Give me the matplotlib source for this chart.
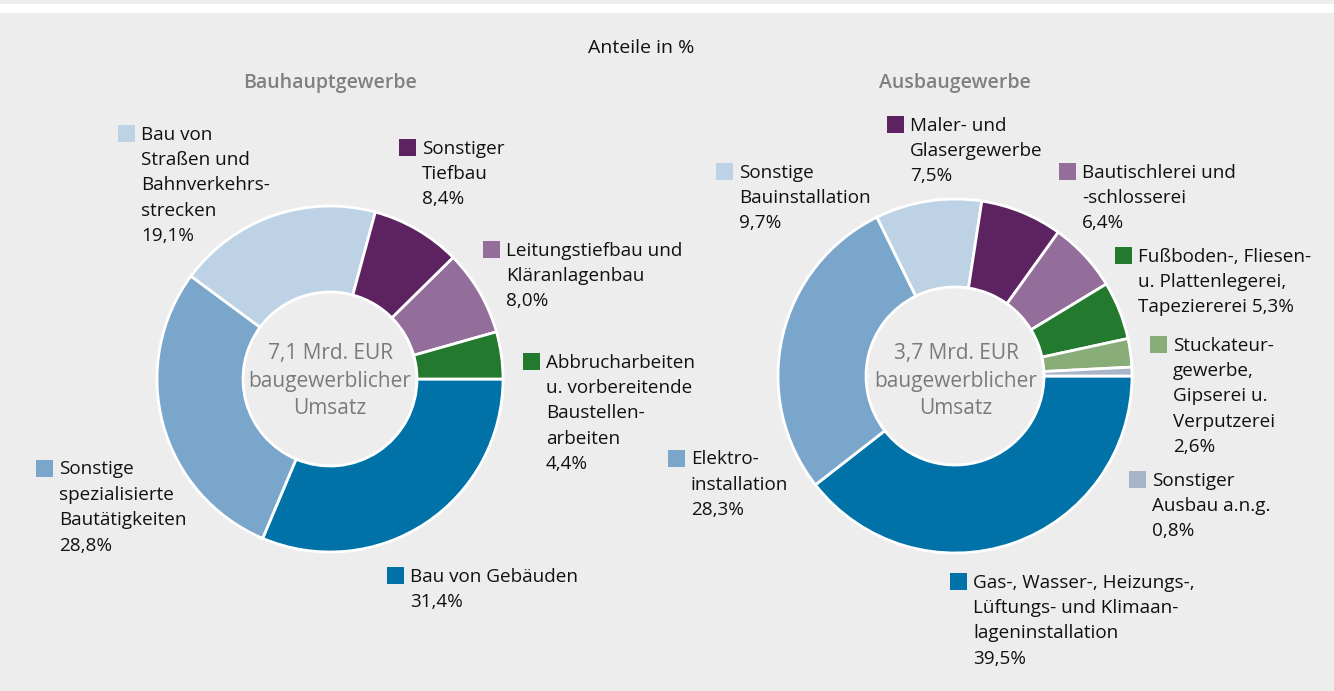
import matplotlib
matplotlib.use("Agg")
import matplotlib.pyplot as plt
from matplotlib.patches import Rectangle

plt.rcParams["font.family"] = ["Open Sans", "DejaVu Sans"]

W, H = 1334, 691
BG = "#EDEDED"; INK = "#111111"; GREY = "#7A7A7A"

C_DBLUE = "#0072A7"; C_MBLUE = "#7AA6CB"; C_LBLUE = "#BED2E6"
C_PURP = "#5C2360"; C_MAUVE = "#936E9A"; C_GREEN = "#23792D"
C_LGREEN = "#88AD78"; C_GREYBL = "#A8B4C8"

# Bauhauptgewerbe (clockwise from 3 o'clock)
haupt_labels = ["Bau von Gebäuden\n31,4%",
                "Sonstige\nspezialisierte\nBautätigkeiten\n28,8%",
                "Bau von\nStraßen und\nBahnverkehrs-\nstrecken\n19,1%",
                "Sonstiger\nTiefbau\n8,4%",
                "Leitungstiefbau und\nKläranlagenbau\n8,0%",
                "Abbrucharbeiten\nu. vorbereitende\nBaustellen-\narbeiten\n4,4%"]
haupt_values = [31.4, 28.8, 19.1, 8.4, 8.0, 4.4]
haupt_colors = [C_DBLUE, C_MBLUE, C_LBLUE, C_PURP, C_MAUVE, C_GREEN]

# Ausbaugewerbe
ausbau_labels = ["Gas-, Wasser-, Heizungs-,\nLüftungs- und Klimaan-\nlageninstallation\n39,5%",
                 "Elektro-\ninstallation\n28,3%",
                 "Sonstige\nBauinstallation\n9,7%",
                 "Maler- und\nGlasergewerbe\n7,5%",
                 "Bautischlerei und\n-schlosserei\n6,4%",
                 "Fußboden-, Fliesen-\nu. Plattenlegerei,\nTapeziererei 5,3%",
                 "Stuckateur-\ngewerbe,\nGipserei u.\nVerputzerei\n2,6%",
                 "Sonstiger\nAusbau a.n.g.\n0,8%"]
ausbau_values = [39.5, 28.3, 9.7, 7.5, 6.4, 5.3, 2.6, 0.8]
ausbau_colors = [C_DBLUE, C_MBLUE, C_LBLUE, C_PURP, C_MAUVE, C_GREEN, C_LGREEN, C_GREYBL]

# label anchor (marker left x, first line centre y) in pixels from top
haupt_pos = [(387, 575), (36, 468), (118, 133), (399, 147), (483, 249), (523, 361)]
ausbau_pos = [(950, 581), (668, 458), (716, 171), (887, 124), (1059, 171),
              (1115, 255), (1150, 344), (1129, 479)]

fig = plt.figure(figsize=(W / 100, H / 100), dpi=100)
fig.patch.set_facecolor(BG)
ax = fig.add_axes([0, 0, 1, 1])
ax.set_facecolor(BG)


def Y(py):
    return H - py


def donut(cx, cy, r, rin, values, colors):
    ax.pie(values, colors=colors, startangle=0, counterclock=False,
           center=(cx, Y(cy)), radius=r, normalize=True,
           wedgeprops=dict(width=r - rin, edgecolor="white", linewidth=2))


def labels(texts, pos, colors):
    for t, (x, y), c in zip(texts, pos, colors):
        ax.add_patch(Rectangle((x, Y(y) - 8.5), 17, 17, fc=c, ec="none", zorder=3))
        ax.text(x + 23, Y(y) + 7.5, t, fontsize=13.6, color=INK, ha="left", va="top",
                linespacing=1.53, zorder=4)


donut(330, 379, 173, 87, haupt_values, haupt_colors)
donut(955, 376, 177, 89, ausbau_values, ausbau_colors)
labels(haupt_labels, haupt_pos, haupt_colors)
labels(ausbau_labels, ausbau_pos, ausbau_colors)

for cx, s in [(330, "7,1 Mrd. EUR\nbaugewerblicher\nUmsatz"),
              (956, "3,7 Mrd. EUR\nbaugewerblicher\nUmsatz")]:
    ax.text(cx, Y(381), s, fontsize=15, color=GREY, ha="center", va="center",
            linespacing=1.38)

ax.text(641, Y(48), "Anteile in %", fontsize=14, color=INK, ha="center", va="center")
ax.text(330, Y(83), "Bauhauptgewerbe", fontsize=14, color="#808080", ha="center",
        va="center", fontweight="semibold")
ax.text(955, Y(83), "Ausbaugewerbe", fontsize=14, color="#808080", ha="center",
        va="center", fontweight="semibold")

ax.add_patch(Rectangle((0, Y(13)), W, 9, fc="white", ec="none", zorder=1))

ax.set_xlim(0, W)
ax.set_ylim(0, H)
ax.set_aspect("auto")
ax.axis("off")

fig.savefig("out.png", dpi=100, facecolor=fig.get_facecolor())
